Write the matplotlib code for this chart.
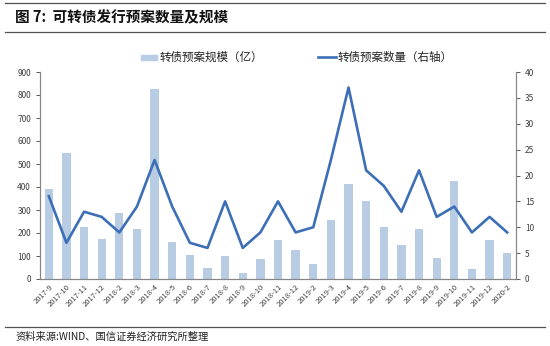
import numpy as np
import matplotlib.pyplot as plt
from matplotlib.lines import Line2D

plt.rcParams['font.family'] = ['Noto Sans CJK SC', 'DejaVu Sans']

months = ["2017-9", "2017-10", "2017-11", "2017-12", "2018-2", "2018-3", "2018-4",
          "2018-5", "2018-6", "2018-7", "2018-8", "2018-9", "2018-10", "2018-11",
          "2018-12", "2019-2", "2019-3", "2019-4", "2019-5", "2019-6", "2019-7",
          "2019-8", "2019-9", "2019-10", "2019-11", "2019-12", "2020-2"]
scale = [390, 550, 225, 175, 287, 218, 825, 163, 103, 50, 98, 25, 85, 170,
         128, 65, 258, 413, 338, 225, 150, 218, 90, 425, 45, 170, 113]
count = [16, 7, 13, 12, 9, 14, 23, 14, 7, 6, 15, 6, 9, 15,
         9, 10, 23, 37, 21, 18, 13, 21, 12, 14, 9, 12, 9]

BAR_C = "#b8cce4"
LINE_C = "#3d6fb6"
TICK_C = "#404040"
SPINE_C = "#868686"

fig = plt.figure(figsize=(5.5, 3.46), dpi=100)
W, H = 550, 346
ax = fig.add_axes([40 / W, 1 - 279 / H, 476 / W, 207 / H])
ax2 = ax.twinx()

x = np.arange(len(months))
ax.bar(x, scale, width=0.47, color=BAR_C, zorder=2)
ax2.plot(x, count, color=LINE_C, lw=1.9, zorder=3)

ax.set_xlim(-0.5, len(months) - 0.5)
ax.set_ylim(0, 900)
ax.set_yticks(range(0, 901, 100))
ax2.set_ylim(0, 40)
ax2.set_yticks(range(0, 41, 5))

ax.set_xticks(x)
ax.set_xticklabels(months, rotation=45, ha="right", rotation_mode="anchor",
                   fontsize=5.5, color=TICK_C)
ax.tick_params(axis="x", length=0, pad=3)
ax.tick_params(axis="y", labelsize=6, colors=TICK_C, length=3, width=0.6, direction="out")
ax2.tick_params(axis="y", labelsize=6, colors=TICK_C, length=3, width=0.6, direction="out")

for a in (ax, ax2):
    a.spines["top"].set_visible(False)
    for s in ("left", "right", "bottom"):
        a.spines[s].set_color(SPINE_C)
        a.spines[s].set_linewidth(0.8)
ax.set_zorder(ax2.get_zorder() - 1)
ax2.patch.set_visible(False)

# legend
fig.patches.append(plt.Rectangle((141 / W, 1 - 60 / H), 16 / W, 5 / H,
                                 transform=fig.transFigure, color=BAR_C))
fig.text(160 / W, 1 - 57 / H, "转债预案规模（亿）", fontsize=8.3, va="center", color="#222222")
fig.lines.append(Line2D([318 / W, 336 / W], [1 - 57 / H, 1 - 57 / H],
                        transform=fig.transFigure, color=LINE_C, lw=1.9))
fig.text(338 / W, 1 - 57 / H, "转债预案数量（右轴）", fontsize=8.3, va="center", color="#222222")

# title and frame lines
for yy in (3, 32, 327):
    fig.lines.append(Line2D([5 / W, 545 / W], [1 - yy / H, 1 - yy / H],
                            transform=fig.transFigure, color="#505050", lw=0.9))
fig.text(15 / W, 1 - 17 / H, "图 7:  可转债发行预案数量及规模", fontsize=10.5,
         fontweight="bold", va="center", color="#111111")
fig.text(15 / W, 1 - 337 / H, "资料来源:WIND、国信证券经济研究所整理", fontsize=7.4,
         va="center", color="#222222")

fig.savefig("out.png", dpi=100)
